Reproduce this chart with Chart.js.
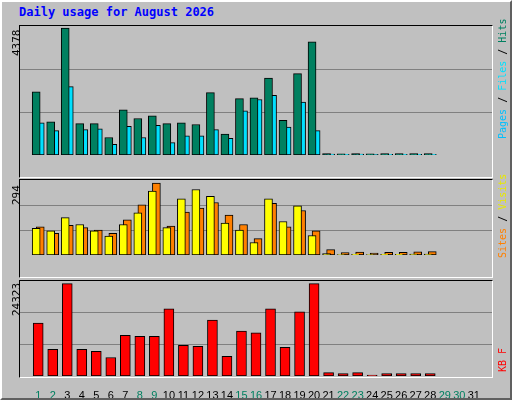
<!DOCTYPE html>
<html><head><meta charset="utf-8">
<script src="https://cdn.jsdelivr.net/npm/chart.js@4"></script>
<style>
body{margin:0;width:512px;height:400px;background:#c0c0c0;position:relative;overflow:hidden;font-family:"DejaVu Sans Mono",monospace}
#outer{position:absolute;left:0;top:0;width:508px;height:396px;border-top:2px solid #fff;border-left:2px solid #fff;border-right:2px solid #606060;border-bottom:2px solid #606060;box-sizing:content-box}
.frame{position:absolute;border-top:1px solid #000;border-left:1px solid #000;border-right:1px solid #fff;border-bottom:1px solid #fff;pointer-events:none}
.cv{position:absolute}
.vt{position:absolute;transform:rotate(-90deg);transform-origin:left top;white-space:nowrap;font-size:10px}
#title{position:absolute;left:19px;top:5px;color:#0000ff;font-weight:bold;font-size:12px}
</style></head><body>
<div id="outer"></div>
<div id="title">Daily usage for August 2026</div>
<div class="cv" style="left:20px;top:26px;width:472px;height:151px"><canvas id="c1"></canvas></div>
<div class="cv" style="left:20px;top:180px;width:472px;height:97px"><canvas id="c2"></canvas></div>
<div class="cv" style="left:20px;top:281px;width:472px;height:117px"><canvas id="c3"></canvas></div>
<div class="frame" style="left:19px;top:25px;width:472px;height:151px"></div>
<div class="frame" style="left:19px;top:179px;width:472px;height:97px"></div>
<div class="frame" style="left:19px;top:280px;width:472px;height:96px"></div>
<div class="vt" style="left:10px;top:56px;font-size:11px">4378</div>
<div class="vt" style="left:10px;top:205px;font-size:11px">294</div>
<div class="vt" style="left:10px;top:316px;font-size:11px">24323</div>
<div class="vt" style="left:497px;top:139px"><span style="color:#00c0ff">Pages</span> / <span style="color:#00e0ff">Files</span> / <span style="color:#008060">Hits</span></div>
<div class="vt" style="left:497px;top:258px"><span style="color:#ff8000">Sites</span> / <span style="color:#e8e800">Visits</span></div>
<div class="vt" style="left:497px;top:372px;color:#ff0000">KB F</div>
<script>
const days=[1,2,3,4,5,6,7,8,9,10,11,12,13,14,15,16,17,18,19,20,21,22,23,24,25,26,27,28,29,30,31];
const weekend=[1,2,8,9,15,16,22,23,29,30];
const hits=[2179,1139,4378,1080,1080,604,1555,1258,1347,1080,1109,1050,2149,723,1941,1971,2654,1198,2803,3902,50,40,50,40,45,45,45,45,0,0,0];
const files=[1109,842,2357,872,901,366,990,604,1020,426,664,664,872,574,1525,1912,2060,961,1822,842,30,25,30,20,25,25,25,25,0,0,0];
const pages=[248,248,366,277,218,277,307,366,277,307,277,336,248,218,129,485,248,277,307,277,20,15,20,10,15,15,15,15,0,0,0];
const sites=[109,99,153,125,99,77,125,173,262,112,230,268,240,131,102,51,230,137,201,80,6,2,3,2,3,3,4,4,0,0,0];
const visits=[115,89,121,112,102,89,144,205,294,118,176,192,215,163,125,67,211,115,182,99,22,10,12,8,11,11,13,14,0,0,0];
const kbytes=[13937,7013,24323,7013,6480,4882,10741,10475,10475,17665,8078,7812,14736,5149,11806,11362,17665,7545,16866,24323,888,621,888,266,621,621,621,621,0,0,0];

function ds(vals,off,color,w){
  return {data:vals.map((v,i)=>({x:days[i]+off,y:v})),backgroundColor:color,borderColor:'#000',borderWidth:1,
    barThickness:w,grouped:false,borderSkipped:false};
}
function make(id,datasets,max,showX){
  new Chart(document.getElementById(id),{type:'bar',data:{datasets},
    options:{responsive:true,maintainAspectRatio:false,animation:false,layout:{padding:0},
      plugins:{legend:{display:false},tooltip:{enabled:false}},
      scales:{
        x:{type:'linear',min:0.27,max:31.73,display:showX,grid:{display:false},border:{display:false},
          afterBuildTicks:a=>{a.ticks=days.map(d=>({value:d}));},
          afterFit:a=>{a.height=22;},
          ticks:{autoSkip:false,maxRotation:0,padding:5,font:{family:'Liberation Sans',size:11},
            color:c=>weekend.includes(c.tick.value)?'#008060':'#000',callback:v=>String(v)}},
        y:{min:0,max:max,border:{display:false},grid:{color:'#808080',drawTicks:false,lineWidth:1},
          afterBuildTicks:a=>{a.ticks=[{value:max/3},{value:2*max/3}];},
          ticks:{display:false}}
      }}});
}
make('c1',[ds(hits,-0.14,'#008060',8),ds(files,0.14,'#00e0ff',8),ds(pages,-0.2,'#0040ff',3)],4446,false);
make('c2',[ds(sites,-0.14,'#ffff00',8),ds(visits,0.14,'#ff8000',8)],307,false);
make('c3',[ds(kbytes,0,'#ff0000',10)],25015,true);
</script>
</body></html>
